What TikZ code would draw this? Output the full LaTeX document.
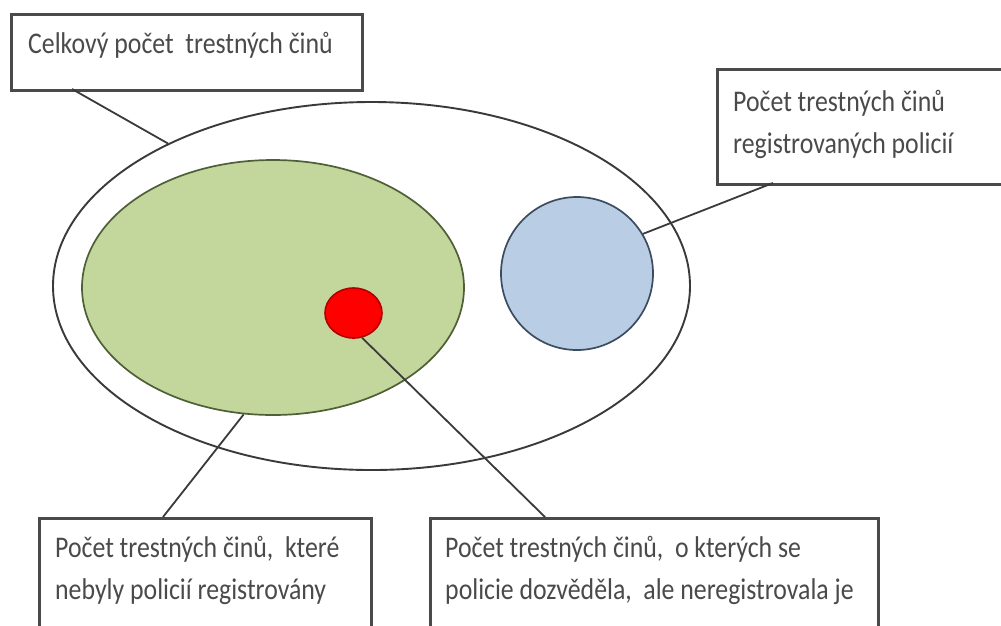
\documentclass[tikz,border=0pt]{standalone}
\usepackage{fontspec}
\setmainfont{Carlito}[FakeStretch=0.86]
\usetikzlibrary{shapes.geometric}
\definecolor{linec}{HTML}{3A3A3A}
\definecolor{boxc}{HTML}{4A4A4A}
\definecolor{textc}{HTML}{4A4A4A}
\definecolor{greenfill}{HTML}{C3D69B}
\definecolor{greenline}{HTML}{4F5F38}
\definecolor{bluefill}{HTML}{B9CDE5}
\definecolor{blueline}{HTML}{3C4C60}
\definecolor{redfill}{HTML}{FF0000}
\definecolor{redline}{HTML}{B00000}
\tikzset{
  labelbox/.style={draw=boxc, line width=2.5pt, fill=white, rectangle, inner sep=0pt, anchor=north west},
  labeltext/.style={text=textc, anchor=base west, inner sep=0pt, font=\fontsize{30}{42}\selectfont, align=left},
  conn/.style={draw=linec, line width=1.8pt},
  blob/.style={ellipse, inner sep=0pt}
}
\begin{document}
\begin{tikzpicture}[x=1pt,y=-1pt]
\useasboundingbox (0,0) rectangle (1001,625);
\clip (0,0) rectangle (1001,625);
\fill[white] (0,0) rectangle (1001,625);
% shapes
\node[blob, draw=linec, line width=1.9pt, minimum width=637pt, minimum height=368pt] (outer) at (371.5,286) {};
\node[blob, draw=greenline, fill=greenfill, line width=1.7pt, minimum width=382pt, minimum height=255pt] (green) at (273,287.5) {};
\node[blob, draw=redline, fill=redfill, line width=1.6pt, minimum width=57pt, minimum height=50pt] (red) at (353.5,313) {};
\node[blob, draw=blueline, fill=bluefill, line width=1.7pt, minimum width=152pt, minimum height=153pt] (blue) at (577,273.5) {};
% boxes
\node[labelbox, minimum width=351pt, minimum height=76pt] (box1) at (10,13) {};
\node[labelbox, minimum width=310pt, minimum height=115pt] (box2) at (716,68) {};
\node[labelbox, minimum width=332pt, minimum height=130pt] (box3) at (38,517) {};
\node[labelbox, minimum width=448pt, minimum height=130pt] (box4) at (429,517) {};
% texts (anchor = baseline of last line)
\node[labeltext] (t1) at (28,53) {Celkový počet\ \ trestných činů};
\node[labeltext] (t2) at (733,153) {Počet trestných činů\\registrovaných policií};
\node[labeltext] (t3) at (55,599) {Počet trestných činů,\ \ které\\nebyly policií registrovány};
\node[labeltext] (t4) at (445,599) {Počet trestných činů,\ \ o kterých se\\policie dozvěděla,\ \ ale neregistrovala je};
% connector ends on boxes
\coordinate (c1) at (72,89);
\coordinate (c2) at (773,183);
\coordinate (c3) at (163,517);
\coordinate (c4) at (545,517);
% connectors
\draw[conn] (c1) -- (outer.145);
\draw[conn] (c2) -- (blue.31);
\draw[conn] (c3) -- (green.257);
\draw[conn] (c4) -- (red.289);
\end{tikzpicture}
\end{document}
